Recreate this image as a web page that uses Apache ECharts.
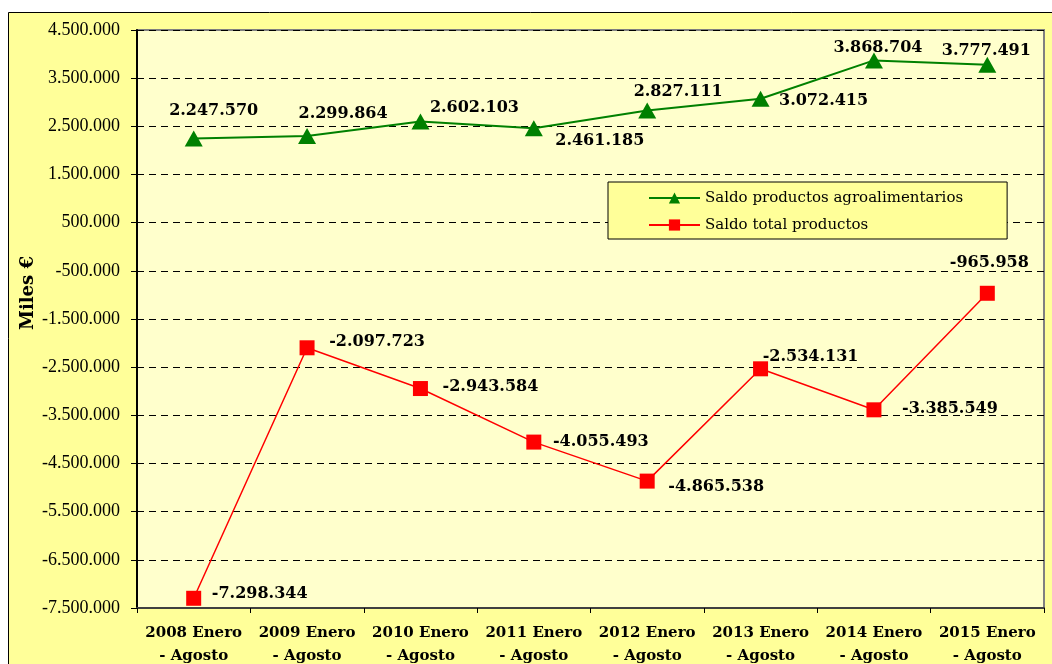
<!DOCTYPE html>
<html>
<head>
<meta charset="utf-8">
<title>Saldo productos</title>
<script src="https://cdn.jsdelivr.net/npm/echarts@6/dist/echarts.min.js"></script>
<style>
  html, body { margin: 0; padding: 0; background: #fff; }
  #chart { width: 1052px; height: 664px; }
</style>
</head>
<body>
<div id="chart"></div>
<script>
// categorias (eje x)
const categories = [
  '2008 Enero\n- Agosto', '2009 Enero\n- Agosto', '2010 Enero\n- Agosto', '2011 Enero\n- Agosto',
  '2012 Enero\n- Agosto', '2013 Enero\n- Agosto', '2014 Enero\n- Agosto', '2015 Enero\n- Agosto'
]
const seriesNames = ['Saldo productos agroalimentarios', 'Saldo total productos']

// valores en miles de euros
const agroValues = [2247570, 2299864, 2602103, 2461185, 2827111, 3072415, 3868704, 3777491]
const totalValues = [-7298344, -2097723, -2943584, -4055493, -4865538, -2534131, -3385549, -965958]

// eje y
const yMin = -7500000
const yMax = 4500000
const yStep = 1000000

// desplazamiento de las etiquetas respecto al punto
const agroLabelOffsets = [[20, -28], [36, -22], [54, -14], [66, 13], [31, -19], [63, 2], [4, -13], [-1, -14]]
const totalLabelOffsets = [[66, -4], [70, -6], [70, -2], [67, 0], [69, 6], [50, -12], [76, -1], [2, -30]]

function fmt(v) {
  const s = Math.abs(v).toString().replace(/\B(?=(\d{3})+(?!\d))/g, '.')
  return (v < 0 ? '-' : '') + s
}

function withLabels(values, offsets) {
  return values.map((v, i) => ({
    value: v,
    label: { offset: offsets[i] }
  }))
}

const labelStyle = {
  show: true,
  position: 'inside',
  color: '#000',
  fontFamily: 'DejaVu Serif',
  fontWeight: 'bold',
  fontSize: 16,
  formatter: p => fmt(p.value)
}

const chart = echarts.init(document.getElementById('chart'), null, { renderer: 'canvas' })

chart.setOption({
  animation: false,
  backgroundColor: '#fff',
  graphic: [
    {
      type: 'rect',
      z: -10,
      shape: { x: 8.5, y: 12.5, width: 1060, height: 680 },
      style: { fill: '#FFFF99', stroke: '#000', lineWidth: 1 }
    },
    {
      type: 'text',
      z: 10,
      x: 28,
      y: 293,
      rotation: Math.PI / 2,
      style: {
        text: 'Miles €',
        fill: '#000',
        font: 'bold 18px "DejaVu Serif"',
        align: 'center',
        verticalAlign: 'middle'
      }
    }
  ],
  legend: {
    orient: 'vertical',
    left: 608,
    top: 182,
    padding: [8, 44, 6, 40],
    itemGap: 11,
    itemWidth: 51,
    itemHeight: 14,
    backgroundColor: '#FFFF99',
    borderColor: '#000',
    borderWidth: 1,
    borderRadius: 0,
    textStyle: {
      fontFamily: 'DejaVu Serif',
      fontSize: 15,
      color: '#000',
      lineHeight: 16
    },
    data: seriesNames
  },
  grid: {
    left: 137,
    right: 8,
    top: 30,
    bottom: 56,
    outerBoundsMode: 'none',
    containLabel: false,
    show: true,
    backgroundColor: '#FFFFCC',
    borderColor: '#808080',
    borderWidth: 2
  },
  xAxis: {
    type: 'category',
    data: categories,
    boundaryGap: true,
    axisLine: { show: true, onZero: false, lineStyle: { color: '#404040', width: 2 } },
    axisTick: { show: true, length: 5, alignWithLabel: false, lineStyle: { color: '#000', width: 1 } },
    axisLabel: {
      interval: 0,
      margin: 14,
      color: '#000',
      fontFamily: 'DejaVu Serif',
      fontWeight: 'bold',
      fontSize: 15,
      lineHeight: 23,
      align: 'center'
    },
    splitLine: { show: false }
  },
  yAxis: {
    type: 'value',
    min: yMin,
    max: yMax,
    interval: yStep,
    axisLine: { show: true, onZero: false, lineStyle: { color: '#000', width: 2 } },
    axisTick: { show: true, length: 6, lineStyle: { color: '#000', width: 1 } },
    axisLabel: {
      margin: 17,
      color: '#000',
      fontFamily: 'Liberation Serif',
      fontSize: 18,
      formatter: v => fmt(v)
    },
    splitLine: {
      show: true,
      lineStyle: { color: '#000', width: 1, type: [7, 5] }
    }
  },
  series: [
    {
      name: seriesNames[0],
      type: 'line',
      data: withLabels(agroValues, agroLabelOffsets),
      symbol: 'triangle',
      symbolSize: [18, 16],
      lineStyle: { color: '#008000', width: 2 },
      itemStyle: { color: '#008000' },
      label: labelStyle,
      z: 3
    },
    {
      name: seriesNames[1],
      type: 'line',
      data: withLabels(totalValues, totalLabelOffsets),
      symbol: 'rect',
      symbolSize: 15,
      lineStyle: { color: '#FF0000', width: 1.5 },
      itemStyle: { color: '#FF0000' },
      label: labelStyle,
      z: 3
    }
  ]
})
</script>
</body>
</html>
